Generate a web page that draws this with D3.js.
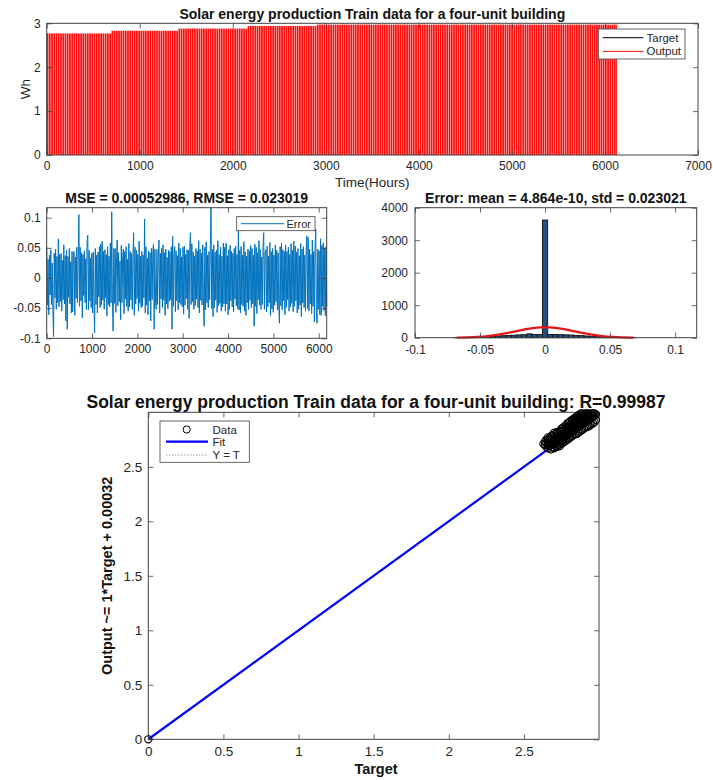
<!DOCTYPE html>
<html>
<head>
<meta charset="utf-8">
<script src="https://cdn.jsdelivr.net/npm/d3@7"></script>
<style>
  body { margin: 0; background: #fff; }
  svg { display: block; font-family: "Liberation Sans", Arial, Helvetica, sans-serif; }
</style>
</head>
<body>
<svg id="fig" width="713" height="780"></svg>
<script>
// ---------------- data ----------------
// hourly production run: each block of hours shares one daily peak level (Wh)
const seriesHours = 6130;
const hoursPerDay = 24;
const dayOnHours = 19;
const blockStartHour = [0, 690, 1400, 2150, 2900];
const blockPeakWh = [2.77, 2.83, 2.88, 2.94, 2.97];

// training error, sampled every errorStepHours hours
const errorStepHours = 15.1;
const errorValues = [
  0.052, -0.045, 0.031, -0.061, 0.038, -0.028, 0.047, -0.044, 0.025, -0.052, -0.097, 0.041, -0.033, 0.048, -0.052, 0.036, -0.041, 0.065, -0.048, 0.039,
  -0.039, 0.041, -0.055, 0.029, -0.036, 0.055, -0.043, 0.037, -0.071, 0.046, -0.085, 0.036, -0.032, 0.049, -0.043, 0.027, -0.058, 0.044, -0.056, 0.033,
  0.044, -0.062, 0.035, -0.034, 0.051, -0.041, 0.028, 0.105, -0.047, 0.051, -0.038, 0.042, -0.066, 0.039, -0.029, 0.045, -0.041, 0.032, -0.053, 0.062,
  0.071, -0.053, 0.046, -0.038, 0.033, -0.049, 0.041, -0.058, 0.043, -0.036, -0.091, 0.049, -0.044, 0.038, -0.058, 0.043, -0.031, 0.052, -0.049, 0.056,
  -0.045, 0.061, -0.037, 0.044, -0.052, 0.047, -0.033, 0.039, -0.063, 0.052, -0.044, 0.036, -0.048, 0.058, -0.041, 0.110, -0.035, -0.088, 0.049, -0.042,
  0.049, -0.057, 0.034, 0.063, -0.046, 0.042, -0.039, 0.028, -0.069, 0.054, -0.041, 0.037, 0.048, -0.059, 0.044, -0.035, 0.052, -0.047, 0.031, -0.055,
  0.057, -0.048, 0.044, -0.036, 0.041, -0.052, 0.038, 0.075, -0.062, 0.051, -0.043, 0.046, -0.034, 0.039, -0.055, 0.061, -0.042, 0.036, -0.049, 0.044,
  -0.047, 0.038, -0.033, 0.098, -0.058, 0.052, -0.045, 0.033, -0.061, 0.045, -0.038, 0.042, -0.071, 0.049, -0.036, 0.044, 0.056, -0.085, 0.048, -0.041,
  -0.052, 0.047, -0.044, 0.036, 0.063, -0.058, 0.041, -0.035, 0.049, -0.049, 0.055, -0.037, 0.042, -0.062, 0.048, -0.043, 0.034, -0.051, 0.046, -0.039,
  0.044, -0.036, 0.052, -0.085, 0.069, -0.047, 0.041, 0.052, -0.056, 0.045, -0.038, 0.037, -0.053, 0.058, -0.041, 0.049, -0.044, 0.035, -0.048, 0.051,
  -0.060, 0.053, -0.045, 0.039, -0.034, 0.047, -0.052, 0.046, -0.067, 0.051, 0.075, -0.044, 0.057, -0.039, 0.043, -0.052, 0.036, -0.046, 0.049, -0.035,
  0.045, -0.049, 0.062, -0.058, 0.048, -0.037, 0.041, -0.045, 0.055, -0.046, -0.080, 0.051, -0.053, 0.060, -0.041, 0.038, -0.049, 0.044, -0.036, 0.052,
  0.1166, -0.051, 0.047, -0.064, 0.055, -0.049, 0.043, -0.037, 0.046, -0.057, 0.062, -0.046, 0.039, -0.042, 0.051, -0.055, 0.036, -0.048, 0.058, -0.043,
  0.051, -0.055, 0.058, -0.043, 0.037, -0.061, 0.047, -0.052, 0.054, -0.038, 0.044, -0.048, 0.041, -0.056, 0.049, -0.035, 0.053, -0.046, 0.039, -0.051,
  0.081, -0.053, 0.046, -0.058, 0.052, -0.044, 0.038, -0.047, 0.060, -0.055, 0.043, -0.062, 0.036, -0.041, 0.048, -0.052, 0.045, -0.037, 0.054, -0.049,
  0.049, -0.043, 0.038, -0.080, 0.056, -0.047, 0.051, -0.059, 0.042, -0.036, 0.062, -0.045, 0.047, -0.052, 0.035, -0.044, 0.052, 0.075, -0.052, 0.041,
  0.047, -0.056, 0.053, -0.048, 0.036, -0.041, 0.059, -0.062, 0.044, -0.051, 0.049, -0.057, 0.038, -0.045, 0.055, -0.039, 0.046, -0.053, 0.042, -0.047,
  -0.075, 0.052, -0.046, 0.058, -0.053, 0.047, -0.038, 0.044, -0.061, 0.055, -0.049, 0.044, -0.036, 0.051, -0.055, 0.039, -0.048, 0.057, -0.042, 0.046,
  -0.056, 0.061, -0.047, 0.053, -0.038, 0.043, -0.058, 0.049, -0.052, 0.037, -0.045, 0.057, -0.064, 0.048, -0.041, 0.052, -0.049, 0.038, -0.055, 0.046,
  0.070, -0.051, 0.067, -0.055, 0.048, -0.043, 0.039, -0.059, 0.063, -0.047, 0.044, -0.073, 0.050, 0.081, -0.057, -0.075, 0.048, -0.052, 0.045, -0.061,
  0.065, -0.062, 0.054, -0.047, 0.058, -0.054, 0.049, -0.063, 0.052, -0.047
];

// error histogram
const histBinStart = -0.068;
const histBinWidth = 0.004;
const histCounts = [3, 5, 8, 12, 18, 25, 33, 41, 52, 61, 70, 78, 86, 92, 118, 99, 101, 3620,
                    100, 97, 93, 88, 81, 72, 63, 53, 43, 34, 26, 19, 13, 8, 5, 3, 2];
// fitted normal curve read at these error values
const normalX = [-0.068, -0.060, -0.052, -0.044, -0.036, -0.028, -0.020, -0.012, -0.004, 0,
                 0.004, 0.012, 0.020, 0.028, 0.036, 0.044, 0.052, 0.060, 0.068];
const normalY = [4, 11, 25, 51, 94, 153, 219, 279, 315, 320, 315, 279, 219, 153, 94, 51, 25, 11, 4];

// regression scatter: target values and the matching network outputs
const scatterTarget = [
  2.63, 2.64, 2.64,
  2.65, 2.65, 2.65,
  2.66, 2.66, 2.66, 2.66,
  2.67, 2.67, 2.67,
  2.68, 2.68, 2.68, 2.68,
  2.69, 2.69, 2.69, 2.69,
  2.70, 2.70, 2.70, 2.70, 2.70,
  2.71, 2.71, 2.71, 2.71,
  2.72, 2.72, 2.72, 2.72, 2.72,
  2.73, 2.73, 2.73, 2.73,
  2.74, 2.74, 2.74, 2.74, 2.74,
  2.75, 2.75, 2.75, 2.75, 2.75,
  2.76, 2.76, 2.76, 2.76, 2.76,
  2.77, 2.77, 2.77, 2.77, 2.77,
  2.78, 2.78, 2.78, 2.78, 2.78,
  2.79, 2.79, 2.79, 2.79, 2.79,
  2.80, 2.80, 2.80, 2.80, 2.80,
  2.81, 2.81, 2.81, 2.81, 2.81,
  2.82, 2.82, 2.82, 2.82, 2.82,
  2.83, 2.83, 2.83, 2.83, 2.83,
  2.84, 2.84, 2.84, 2.84, 2.84,
  2.85, 2.85, 2.85, 2.85, 2.85,
  2.86, 2.86, 2.86, 2.86, 2.86,
  2.87, 2.87, 2.87, 2.87, 2.87,
  2.88, 2.88, 2.88, 2.88, 2.88,
  2.89, 2.89, 2.89, 2.89, 2.89,
  2.90, 2.90, 2.90, 2.90,
  2.91, 2.91, 2.91, 2.91,
  2.92, 2.92, 2.92, 2.92,
  2.93, 2.93, 2.93, 2.93,
  2.94, 2.94, 2.94,
  2.95, 2.95, 2.95,
  2.96, 2.96, 2.96,
  2.97, 2.97, 2.97,
  2.98, 2.98,
  0
];
const scatterOutput = [
  2.71, 2.70, 2.73,
  2.68, 2.72, 2.75,
  2.67, 2.70, 2.74, 2.77,
  2.69, 2.72, 2.76,
  2.66, 2.70, 2.74, 2.78,
  2.68, 2.72, 2.75, 2.79,
  2.67, 2.71, 2.74, 2.77, 2.81,
  2.69, 2.73, 2.76, 2.80,
  2.68, 2.71, 2.75, 2.78, 2.82,
  2.70, 2.74, 2.77, 2.81,
  2.69, 2.72, 2.76, 2.79, 2.83,
  2.71, 2.74, 2.78, 2.82, 2.85,
  2.72, 2.75, 2.79, 2.83, 2.86,
  2.73, 2.77, 2.80, 2.84, 2.87,
  2.74, 2.78, 2.81, 2.85, 2.88,
  2.75, 2.79, 2.82, 2.86, 2.90,
  2.76, 2.80, 2.84, 2.87, 2.91,
  2.77, 2.81, 2.85, 2.88, 2.92,
  2.78, 2.82, 2.86, 2.90, 2.93,
  2.79, 2.83, 2.87, 2.91, 2.94,
  2.80, 2.84, 2.88, 2.92, 2.95,
  2.80, 2.85, 2.89, 2.93, 2.96,
  2.81, 2.86, 2.90, 2.94, 2.97,
  2.82, 2.87, 2.91, 2.95, 2.98,
  2.83, 2.88, 2.92, 2.96, 2.99,
  2.84, 2.89, 2.93, 2.97, 2.99,
  2.85, 2.90, 2.94, 2.98,
  2.86, 2.91, 2.95, 2.99,
  2.87, 2.92, 2.96, 2.99,
  2.87, 2.93, 2.97, 2.99,
  2.88, 2.94, 2.98,
  2.89, 2.95, 2.99,
  2.90, 2.96, 2.99,
  2.91, 2.97, 2.99,
  2.93, 2.98,
  0
];
const fitSlope = 1, fitIntercept = 0.00032, fitTargetMax = 2.98;

// tick values
const topXTicks = [0, 1000, 2000, 3000, 4000, 5000, 6000, 7000];
const topYTicks = [0, 1, 2, 3];
const errXTicks = [0, 1000, 2000, 3000, 4000, 5000, 6000];
const errYTicks = [-0.1, -0.05, 0, 0.05, 0.1];
const histXTicks = [-0.1, -0.05, 0, 0.05, 0.1];
const histYTicks = [0, 1000, 2000, 3000, 4000];
const regTicks = [0, 0.5, 1, 1.5, 2, 2.5];

// ---------------- drawing ----------------
const svg = d3.select("#fig");
const AX = "#404040", TXT = "#262626";
const MRED = "#ff0d0d", MBLUE = "#0072bd";

function boxAxes(g, x, y, xt, yt, o) {
  const [x0, x1] = x.range(), [y0, y1] = y.range();
  const tl = o.tick || 5, fs = o.fs || 12;
  const fmt = d => String(d);
  const style = sel => {
    sel.select(".domain").remove();
    sel.selectAll(".tick line").attr("stroke", AX).attr("stroke-width", 0.8);
    sel.selectAll(".tick text").attr("fill", TXT).style("font-size", fs + "px").attr("font-family", null);
  };
  g.append("g").attr("transform", `translate(0,${y0})`)
    .call(d3.axisBottom(x).tickValues(xt).tickSize(-tl).tickSizeOuter(0).tickPadding(o.xpad || 6).tickFormat(fmt)).call(style);
  g.append("g").attr("transform", `translate(0,${y1})`)
    .call(d3.axisTop(x).tickValues(xt).tickSize(-tl).tickSizeOuter(0).tickFormat("")).call(style);
  g.append("g").attr("transform", `translate(${x0},0)`)
    .call(d3.axisLeft(y).tickValues(yt).tickSize(-tl).tickSizeOuter(0).tickPadding(o.ypad || 6).tickFormat(fmt)).call(style);
  g.append("g").attr("transform", `translate(${x1},0)`)
    .call(d3.axisRight(y).tickValues(yt).tickSize(-tl).tickSizeOuter(0).tickFormat("")).call(style);
  g.append("rect").attr("x", x0).attr("y", y1).attr("width", x1 - x0).attr("height", y0 - y1)
    .attr("fill", "none").attr("stroke", AX).attr("stroke-width", 1);
}
function title(g, text, cx, cy, fs) {
  g.append("text").attr("x", cx).attr("y", cy).attr("text-anchor", "middle").attr("dominant-baseline", "central")
    .attr("font-weight", "bold").attr("fill", "#111").style("font-size", fs + "px").text(text);
}

// ---- panel 1: target / output over time ----
{
  const g = svg.append("g");
  const x = d3.scaleLinear().domain([0, 7000]).range([46.7, 698]);
  const y = d3.scaleLinear().domain([0, 3]).range([155, 23.3]);
  const days = d3.range(0, seriesHours, hoursPerDay);
  const peakOf = h => blockPeakWh[d3.bisectRight(blockStartHour, h) - 1];
  g.append("g").selectAll("rect").data(days).join("rect")
    .attr("x", d => x(d))
    .attr("width", d => x(Math.min(d + dayOnHours, seriesHours)) - x(d))
    .attr("y", d => y(peakOf(d)))
    .attr("height", d => y(0) - y(peakOf(d)))
    .attr("fill", MRED);
  boxAxes(g, x, y, topXTicks, topYTicks, { fs: 12, xpad: 6, ypad: 6 });
  title(g, "Solar energy production Train data for a four-unit building", 372.3, 14, 14);
  g.append("text").attr("x", 372.3).attr("y", 182).attr("text-anchor", "middle").attr("dominant-baseline", "central")
    .attr("fill", TXT).style("font-size", "13.5px").text("Time(Hours)");
  g.append("text").attr("transform", "translate(25,89) rotate(-90)").attr("text-anchor", "middle")
    .attr("dominant-baseline", "central").attr("fill", TXT).style("font-size", "13.5px").text("Wh");
  // legend
  const lg = g.append("g");
  lg.append("rect").attr("x", 598.3).attr("y", 29).attr("width", 86.7).attr("height", 30)
    .attr("fill", "#fff").attr("stroke", AX).attr("stroke-width", 0.8);
  [["Target", "#000", 37.7], ["Output", MRED, 51.4]].forEach(([t, c, yy]) => {
    lg.append("line").attr("x1", 602.7).attr("x2", 643.3).attr("y1", yy).attr("y2", yy).attr("stroke", c).attr("stroke-width", 1);
    lg.append("text").attr("x", 646.5).attr("y", yy).attr("dominant-baseline", "central").attr("fill", TXT)
      .style("font-size", "11.5px").text(t);
  });
}

// ---- panel 2: error over time ----
{
  const g = svg.append("g");
  const x = d3.scaleLinear().domain([0, errorStepHours * (errorValues.length - 1)]).range([46.7, 326.7]);
  const y = d3.scaleLinear().domain([-0.1, 0.1166]).range([338.3, 207.7]);
  g.append("path").datum(errorValues)
    .attr("d", d3.line().x((d, i) => x(i * errorStepHours)).y(d => y(d)))
    .attr("fill", "none").attr("stroke", MBLUE).attr("stroke-width", 1);
  boxAxes(g, x, y, errXTicks, errYTicks, { fs: 12, xpad: 6, ypad: 6 });
  title(g, "MSE = 0.00052986, RMSE = 0.023019", 186.7, 198, 14);
  const lg = g.append("g");
  lg.append("rect").attr("x", 236.7).attr("y", 216.7).attr("width", 78.3).attr("height", 14)
    .attr("fill", "#fff").attr("stroke", AX).attr("stroke-width", 0.8);
  lg.append("line").attr("x1", 241).attr("x2", 284).attr("y1", 223.7).attr("y2", 223.7).attr("stroke", MBLUE).attr("stroke-width", 1);
  lg.append("text").attr("x", 286.5).attr("y", 223.7).attr("dominant-baseline", "central").attr("fill", TXT)
    .style("font-size", "11px").text("Error");
}

// ---- panel 3: error histogram ----
{
  const g = svg.append("g");
  const x = d3.scaleLinear().domain([-0.1, 0.1166]).range([415, 696.7]);
  const y = d3.scaleLinear().domain([0, 4000]).range([337.7, 207.7]);
  g.append("g").selectAll("rect").data(histCounts).join("rect")
    .attr("x", (d, i) => x(histBinStart + (i - 0.5) * histBinWidth))
    .attr("width", x(histBinWidth) - x(0))
    .attr("y", d => y(d))
    .attr("height", d => y(0) - y(d))
    .attr("fill", "#23507f").attr("stroke", "#111").attr("stroke-width", 0.9);
  const pts = normalX.map((v, i) => [v, normalY[i]]);
  g.append("path").datum(pts)
    .attr("d", d3.line().curve(d3.curveCatmullRom).x(d => x(d[0])).y(d => y(d[1])))
    .attr("fill", "none").attr("stroke", "#e8141a").attr("stroke-width", 2.2);
  boxAxes(g, x, y, histXTicks, histYTicks, { fs: 12, xpad: 8, ypad: 7 });
  title(g, "Error: mean = 4.864e-10, std = 0.023021", 555.8, 198, 14);
}

// ---- panel 4: regression ----
{
  const g = svg.append("g");
  const x = d3.scaleLinear().domain([0, 3]).range([148.3, 599]);
  const y = d3.scaleLinear().domain([0, 3]).range([739.3, 412.3]);
  // identity line under the fit
  g.append("line").attr("x1", x(0)).attr("y1", y(0)).attr("x2", x(fitTargetMax)).attr("y2", y(fitTargetMax))
    .attr("stroke", "#888").attr("stroke-dasharray", "1.5,1.5").attr("stroke-width", 0.8);
  g.append("line").attr("x1", x(0)).attr("y1", y(fitIntercept))
    .attr("x2", x(fitTargetMax)).attr("y2", y(fitSlope * fitTargetMax + fitIntercept))
    .attr("stroke", "#0000ff").attr("stroke-width", 2.2);
  boxAxes(g, x, y, regTicks, regTicks, { fs: 13.5, xpad: 7, ypad: 6, tick: 5 });
  g.append("g").selectAll("circle").data(scatterTarget).join("circle")
    .attr("cx", d => x(d)).attr("cy", (d, i) => y(scatterOutput[i])).attr("r", 3.6)
    .attr("fill", "none").attr("stroke", "#000").attr("stroke-width", 1.1);
  title(g, "Solar energy production Train data for a four-unit building: R=0.99987", 376, 401.5, 17.5);
  g.append("text").attr("x", 376).attr("y", 769).attr("text-anchor", "middle").attr("dominant-baseline", "central")
    .attr("font-weight", "bold").attr("fill", "#111").style("font-size", "14.5px").text("Target");
  g.append("text").attr("transform", "translate(107,575.8) rotate(-90)").attr("text-anchor", "middle")
    .attr("dominant-baseline", "central").attr("font-weight", "bold").attr("fill", "#111")
    .style("font-size", "14.5px").text("Output ~= 1*Target + 0.00032");
  // legend
  const lg = g.append("g");
  lg.append("rect").attr("x", 160).attr("y", 421).attr("width", 89.3).attr("height", 41.3)
    .attr("fill", "#fff").attr("stroke", AX).attr("stroke-width", 0.8);
  lg.append("circle").attr("cx", 186.7).attr("cy", 429.5).attr("r", 3.6).attr("fill", "none").attr("stroke", "#000");
  lg.append("line").attr("x1", 166).attr("x2", 208).attr("y1", 441.7).attr("y2", 441.7).attr("stroke", "#0000ff").attr("stroke-width", 2.2);
  lg.append("line").attr("x1", 166).attr("x2", 208).attr("y1", 455).attr("y2", 455).attr("stroke", "#888")
    .attr("stroke-dasharray", "1.5,1.5").attr("stroke-width", 0.8);
  [["Data", 429.5], ["Fit", 442], ["Y = T", 454.5]].forEach(([t, yy]) => {
    lg.append("text").attr("x", 212.5).attr("y", yy).attr("dominant-baseline", "central").attr("fill", TXT)
      .style("font-size", "11.5px").text(t);
  });
}
</script>
</body>
</html>
